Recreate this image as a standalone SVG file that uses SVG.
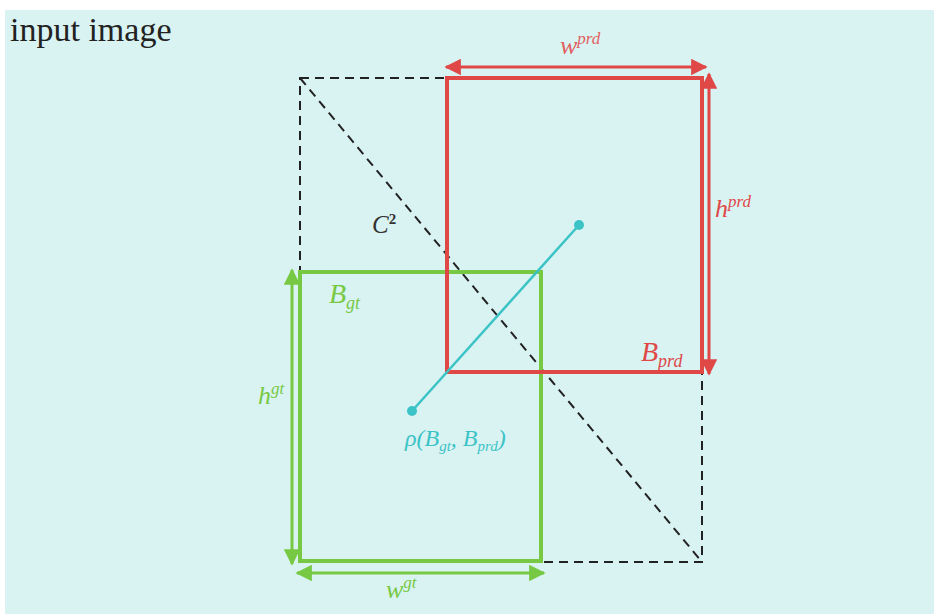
<svg xmlns="http://www.w3.org/2000/svg" width="934" height="616" viewBox="0 0 934 616">
<style>
.dash{fill:none;stroke:#222;stroke-width:2;stroke-dasharray:9 6}
.red{fill:none;stroke:#e04848;stroke-width:4}
.redl{fill:none;stroke:#e04848;stroke-width:3}
.grn{fill:none;stroke:#77c944;stroke-width:4}
.grnl{fill:none;stroke:#77c944;stroke-width:3}
.cy{stroke:#3cc3c6;stroke-width:2.5}
.math{font-family:"Liberation Serif","DejaVu Serif",serif;font-style:italic}
</style>
<defs>
<marker id="ar" viewBox="0 0 10 10" refX="9" refY="5" markerWidth="5.5" markerHeight="5.5" orient="auto-start-reverse" markerUnits="strokeWidth"><path d="M0,0 L10,5 L0,10 z" fill="#e04848"/></marker>
<marker id="ag" viewBox="0 0 10 10" refX="9" refY="5" markerWidth="5.5" markerHeight="5.5" orient="auto-start-reverse" markerUnits="strokeWidth"><path d="M0,0 L10,5 L0,10 z" fill="#77c944"/></marker>
</defs>
<rect x="5" y="10" width="929" height="604" fill="#d9f3f3"/>
<text x="10" y="41" font-family="Liberation Serif,serif" font-size="34" fill="#222">input image</text>
<g id="outer">
<rect class="dash" x="300" y="78" width="402" height="484"/>
<line class="dash" x1="300" y1="78" x2="702" y2="562"/>
</g>
<g id="gt">
<rect class="grn" x="300" y="272" width="241" height="289"/>
<text class="math" x="329" y="303" font-size="28" fill="#77c944">B<tspan font-size="18" dy="6">gt</tspan></text>
</g>
<g id="prd">
<rect class="red" x="447" y="78" width="255" height="294"/>
<text class="math" x="641" y="361" font-size="28" fill="#e04848">B<tspan font-size="18" dy="6">prd</tspan></text>
</g>
<g id="connectors">
<line class="redl" x1="446" y1="67" x2="706" y2="67" marker-start="url(#ar)" marker-end="url(#ar)"/>
<line class="redl" x1="709" y1="74" x2="709" y2="374" marker-start="url(#ar)" marker-end="url(#ar)"/>
<line class="grnl" x1="292" y1="270" x2="292" y2="564" marker-start="url(#ag)" marker-end="url(#ag)"/>
<line class="grnl" x1="297" y1="573" x2="544" y2="573" marker-start="url(#ag)" marker-end="url(#ag)"/>
<line class="cy" x1="412" y1="411" x2="579" y2="225"/>
<circle cx="412" cy="411" r="5" fill="#3cc3c6"/>
<circle cx="579" cy="225" r="5" fill="#3cc3c6"/>
</g>
<g id="labels">
<text class="math" x="560" y="54" font-size="26" fill="#e06060">w<tspan font-size="17" dy="-10">prd</tspan></text>
<text class="math" x="715" y="217" font-size="26" fill="#e04848">h<tspan font-size="17" dy="-10">prd</tspan></text>
<text class="math" x="372" y="233" font-size="25" fill="#333">C<tspan font-size="15" dy="-9" font-style="normal" font-weight="bold">2</tspan></text>
<text class="math" x="258" y="404" font-size="26" fill="#77c944">h<tspan font-size="17" dy="-10">gt</tspan></text>
<text class="math" x="386" y="598" font-size="26" fill="#77c944">w<tspan font-size="17" dy="-10">gt</tspan></text>
<text class="math" x="405" y="446" font-size="24" fill="#3cc3c6">ρ(B<tspan font-size="15" dy="5">gt</tspan><tspan dy="-5">, B</tspan><tspan font-size="15" dy="5">prd</tspan><tspan dy="-5">)</tspan></text>
</g>
</svg>
